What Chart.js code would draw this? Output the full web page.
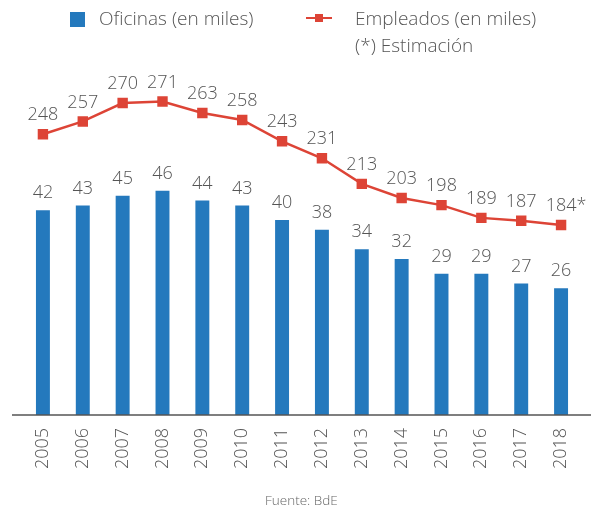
<!DOCTYPE html>
<html>
<head>
<meta charset="utf-8">
<script src="https://cdn.jsdelivr.net/npm/chart.js@4.4.1/dist/chart.umd.min.js"></script>
<style>
  html, body { margin: 0; padding: 0; background: #fff; }
  #wrap { position: relative; width: 591px; height: 511px; font-family: "Open Sans", sans-serif; color: #555; }
  #wrap canvas { position: absolute; left: 0; top: 0; }
  .lg { position: absolute; font-size: 19px; font-weight: 300; line-height: 1; white-space: nowrap; color: #555; }
  .sq { position: absolute; left: 70px; top: 12px; width: 15px; height: 15px; background: #2479bd; }
  .ln { position: absolute; left: 306px; top: 16.5px; width: 26px; height: 2.5px; background: #dd4436; }
  .mk { position: absolute; left: 315px; top: 14px; width: 8px; height: 8px; background: #dd4436; }
  #src { position: absolute; left: 265px; top: 494px; font-size: 13.5px; line-height: 1; color: #666; font-weight: 300; white-space: nowrap; }
</style>
</head>
<body>
<div id="wrap">
  <canvas id="c" width="591" height="511"></canvas>
  <div class="sq"></div>
  <div class="lg" style="left:99px; top:9px;">Oficinas (en miles)</div>
  <div class="ln"></div><div class="mk"></div>
  <div class="lg" style="left:355px; top:9px;">Empleados (en miles)</div>
  <div class="lg" style="left:355px; top:36px;">(*) Estimación</div>
  <div id="src">Fuente: BdE</div>
</div>
<script>
const years = ["2005","2006","2007","2008","2009","2010","2011","2012","2013","2014","2015","2016","2017","2018"];
const oficinas = [42,43,45,46,44,43,40,38,34,32,29,29,27,26];
const empleados = [248,257,270,271,263,258,243,231,213,203,198,189,187,184];
const estimadoIndex = 13; // 2018 is an estimate

const labelPlugin = {
  id: 'valueLabels',
  afterDatasetsDraw(chart) {
    const ctx = chart.ctx;
    ctx.save();
    ctx.font = '300 18px "Open Sans", sans-serif';
    ctx.fillStyle = '#555';
    ctx.textAlign = 'center';
    ctx.textBaseline = 'middle';
    chart.data.datasets.forEach((ds, di) => {
      const meta = chart.getDatasetMeta(di);
      meta.data.forEach((el, i) => {
        let txt = String(ds.data[i]);
        if (ds.type === 'line') {
          if (i === estimadoIndex) txt += '*';
          ctx.fillText(txt, el.x + (i === estimadoIndex ? 5 : 0), el.y - 19);
        } else {
          ctx.fillText(txt, el.x, el.y - 17);
        }
      });
    });
    ctx.restore();
  }
};

const baseLinePlugin = {
  id: 'baseLine',
  afterDraw(chart) {
    const ctx = chart.ctx;
    const y = chart.chartArea.bottom;
    ctx.save();
    ctx.strokeStyle = '#555';
    ctx.lineWidth = 1.5;
    ctx.beginPath();
    ctx.moveTo(12, y);
    ctx.lineTo(chart.width, y);
    ctx.stroke();
    ctx.restore();
  }
};

new Chart(document.getElementById('c'), {
  data: {
    labels: years,
    datasets: [
      {
        type: 'line',
        label: 'Empleados (en miles)',
        data: empleados,
        yAxisID: 'y2',
        borderColor: '#dd4436',
        backgroundColor: '#dd4436',
        borderWidth: 2.5,
        pointStyle: 'rect',
        pointRadius: 5.6,
        pointHoverRadius: 5.6,
        tension: 0,
        order: 0
      },
      {
        type: 'bar',
        label: 'Oficinas (en miles)',
        data: oficinas,
        yAxisID: 'y',
        backgroundColor: '#2479bd',
        barPercentage: 0.35,
        categoryPercentage: 1,
        order: 1
      }
    ]
  },
  options: {
    responsive: false,
    animation: false,
    layout: { padding: { top: 25, left: 23, right: 10, bottom: 0 } },
    plugins: { legend: { display: false }, tooltip: { enabled: false } },
    scales: {
      x: {
        offset: true,
        grid: { display: false, drawTicks: false },
        border: { display: false },
        ticks: {
          minRotation: 90, maxRotation: 90, padding: 13,
          color: '#555',
          font: { family: '"Open Sans", sans-serif', size: 18, weight: 300 }
        },
        afterFit(scale) {
          scale.height = 96;
          scale.paddingLeft = 0;
          scale.paddingRight = 0;
        }
      },
      y: { display: false, min: 0, max: 80 },
      y2: { display: false, min: 50, max: 325 }
    }
  },
  plugins: [labelPlugin, baseLinePlugin]
});
</script>
</body>
</html>
